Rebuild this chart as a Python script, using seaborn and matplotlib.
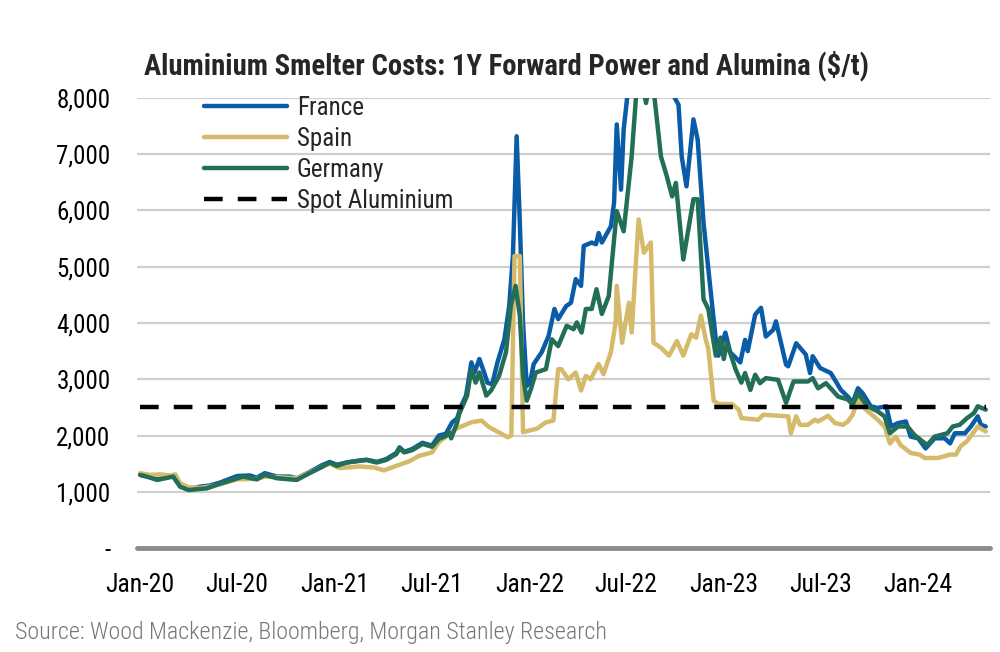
import seaborn as sns
import matplotlib.pyplot as plt
import matplotlib.dates as mdates
import matplotlib.ticker as mticker
import pandas as pd

# ---------- data ($/t) ----------
france_dates = ['2020-01-01', '2020-01-20', '2020-02-02', '2020-02-22', '2020-03-03', '2020-03-16', '2020-04-01',
                '2020-04-22', '2020-05-10', '2020-05-29', '2020-07-01', '2020-07-25', '2020-08-07', '2020-08-22',
                '2020-09-14', '2020-10-08', '2020-10-21', '2020-11-14', '2020-12-07', '2020-12-22', '2021-01-04',
                '2021-01-28', '2021-03-01', '2021-03-20', '2021-04-07', '2021-04-26', '2021-05-02', '2021-05-11',
                '2021-05-26', '2021-06-14', '2021-07-02', '2021-07-15', '2021-07-28', '2021-08-09', '2021-08-18',
                '2021-08-26', '2021-09-04', '2021-09-14', '2021-09-20', '2021-09-29', '2021-10-08', '2021-10-14',
                '2021-10-23', '2021-11-02', '2021-11-15', '2021-11-24', '2021-12-01', '2021-12-08', '2021-12-14',
                '2021-12-20', '2021-12-27', '2022-01-02', '2022-01-09', '2022-01-24', '2022-02-06', '2022-02-17',
                '2022-02-24', '2022-03-11', '2022-03-20', '2022-03-29', '2022-04-08', '2022-04-13', '2022-04-28',
                '2022-05-06', '2022-05-11', '2022-05-17', '2022-06-03', '2022-06-09', '2022-06-14', '2022-06-22',
                '2022-06-27', '2022-07-07', '2022-07-25', '2022-09-01', '2022-09-24', '2022-10-01', '2022-10-08',
                '2022-10-14', '2022-10-23', '2022-11-05', '2022-11-13', '2022-11-24', '2022-12-07', '2022-12-17',
                '2022-12-22', '2023-01-04', '2023-01-13', '2023-02-01', '2023-02-10', '2023-02-15', '2023-03-01',
                '2023-03-12', '2023-03-21', '2023-04-04', '2023-04-09', '2023-04-28', '2023-05-02', '2023-05-17',
                '2023-06-04', '2023-06-12', '2023-06-17', '2023-07-01', '2023-07-21', '2023-08-09', '2023-08-22',
                '2023-08-31', '2023-09-10', '2023-09-19', '2023-10-04', '2023-10-17', '2023-11-02', '2023-11-11',
                '2023-11-24', '2023-12-09', '2023-12-18', '2024-01-01', '2024-01-15', '2024-02-01', '2024-02-20',
                '2024-03-01', '2024-03-10', '2024-03-29', '2024-04-09', '2024-04-22', '2024-04-28', '2024-05-07']
france = [1300, 1260, 1220, 1260, 1280, 1100, 1040,
          1090, 1110, 1160, 1280, 1290, 1250, 1330,
          1270, 1270, 1240, 1350, 1470, 1530, 1480,
          1530, 1570, 1530, 1580, 1690, 1790, 1710,
          1760, 1870, 1820, 2000, 2030, 2235, 2300,
          2530, 2710, 3300, 3120, 3360, 3120, 2940,
          2910, 3300, 3710, 4300, 5190, 7320, 5780,
          4000, 2880, 2940, 3270, 3480, 3770, 4250,
          4070, 4300, 4360, 4780, 4660, 5370, 5430,
          5400, 5600, 5430, 5720, 6140, 7530, 6370,
          7440, 8300, 9000, 9200, 8600, 8000, 7880,
          6960, 6430, 7620, 7260, 5780, 4600, 3710,
          3420, 3830, 3480, 3300, 3700, 3500, 4150,
          4270, 3760, 3880, 4030, 3260, 3230, 3640,
          3440, 3110, 3410, 3200, 3110, 2810, 2690,
          2580, 2840, 2750, 2520, 2490, 2520, 2160,
          2220, 2250, 1980, 1950, 1770, 1950, 1950,
          1860, 2040, 2040, 2160, 2340, 2190, 2160]

spain_dates = ['2020-01-01', '2020-01-20', '2020-02-07', '2020-02-26', '2020-03-07', '2020-03-16', '2020-04-01',
               '2020-04-22', '2020-05-10', '2020-05-29', '2020-07-01', '2020-08-07', '2020-08-22', '2020-09-14',
               '2020-10-21', '2020-11-14', '2020-12-07', '2020-12-22', '2021-01-10', '2021-02-16', '2021-03-16',
               '2021-04-03', '2021-04-26', '2021-05-20', '2021-06-08', '2021-06-17', '2021-07-02', '2021-07-15',
               '2021-08-16', '2021-09-14', '2021-10-03', '2021-10-17', '2021-11-21', '2021-11-28', '2021-12-04',
               '2021-12-14', '2021-12-20', '2022-01-01', '2022-01-15', '2022-02-01', '2022-02-15', '2022-02-24',
               '2022-03-02', '2022-03-15', '2022-03-29', '2022-04-08', '2022-04-17', '2022-04-26', '2022-05-06',
               '2022-05-11', '2022-05-20', '2022-06-03', '2022-06-12', '2022-06-14', '2022-06-24', '2022-07-07',
               '2022-07-12', '2022-07-25', '2022-08-04', '2022-08-17', '2022-08-22', '2022-09-05', '2022-09-20',
               '2022-10-05', '2022-10-17', '2022-11-01', '2022-11-10', '2022-11-19', '2022-11-28', '2022-12-03',
               '2022-12-13', '2022-12-22', '2023-01-16', '2023-01-29', '2023-02-03', '2023-03-07', '2023-03-16',
               '2023-05-02', '2023-05-07', '2023-05-17', '2023-05-24', '2023-06-08', '2023-06-21', '2023-06-27',
               '2023-07-16', '2023-07-29', '2023-08-13', '2023-08-22', '2023-08-31', '2023-09-10', '2023-09-25',
               '2023-10-17', '2023-10-30', '2023-11-09', '2023-11-20', '2023-11-29', '2023-12-18', '2024-01-04',
               '2024-01-13', '2024-02-07', '2024-03-01', '2024-03-12', '2024-03-21', '2024-04-02', '2024-04-22',
               '2024-05-07']
spain = [1330, 1300, 1310, 1290, 1310, 1150, 1080,
         1070, 1090, 1130, 1220, 1230, 1270, 1260,
         1240, 1340, 1440, 1500, 1420, 1450, 1430,
         1380, 1460, 1540, 1640, 1660, 1700, 1880,
         2120, 2235, 2265, 2150, 1970, 2000, 5190,
         5190, 2060, 2090, 2120, 2235, 2265, 3180,
         3180, 3000, 3120, 2800, 3060, 3000, 3180,
         3270, 3090, 3480, 4010, 4660, 3650, 4360,
         3830, 5840, 5250, 5430, 3650, 3560, 3420,
         3680, 3420, 3800, 3740, 4130, 3710, 3540,
         2620, 2560, 2560, 2460, 2310, 2280, 2370,
         2340, 2040, 2340, 2190, 2190, 2280, 2250,
         2350, 2220, 2190, 2250, 2370, 2630, 2460,
         2280, 2160, 1860, 1980, 1830, 1690, 1660,
         1600, 1600, 1660, 1660, 1810, 1900, 2160,
         2070]

germany_dates = ['2020-01-01', '2020-01-20', '2020-02-02', '2020-02-22', '2020-03-03', '2020-03-16', '2020-04-01',
                 '2020-04-22', '2020-05-05', '2020-05-29', '2020-07-12', '2020-08-07', '2020-08-22', '2020-09-14',
                 '2020-10-21', '2020-11-14', '2020-12-07', '2020-12-22', '2021-01-04', '2021-01-23', '2021-03-01',
                 '2021-03-20', '2021-04-07', '2021-04-26', '2021-05-02', '2021-05-11', '2021-05-26', '2021-06-14',
                 '2021-07-02', '2021-07-15', '2021-07-28', '2021-08-03', '2021-08-07', '2021-08-18', '2021-08-22',
                 '2021-09-06', '2021-09-14', '2021-09-22', '2021-09-29', '2021-10-12', '2021-10-21', '2021-11-05',
                 '2021-11-18', '2021-11-27', '2021-12-06', '2021-12-14', '2021-12-20', '2021-12-27', '2022-01-04',
                 '2022-01-13', '2022-02-01', '2022-02-12', '2022-02-24', '2022-03-12', '2022-03-25', '2022-03-31',
                 '2022-04-09', '2022-04-17', '2022-04-28', '2022-05-07', '2022-05-17', '2022-05-30', '2022-06-14',
                 '2022-06-27', '2022-07-12', '2022-07-20', '2022-07-29', '2022-08-08', '2022-08-15', '2022-08-24',
                 '2022-09-05', '2022-09-16', '2022-09-26', '2022-10-03', '2022-10-17', '2022-11-05', '2022-11-13',
                 '2022-11-24', '2022-12-03', '2022-12-17', '2022-12-26', '2023-01-01', '2023-01-07', '2023-01-23',
                 '2023-02-03', '2023-02-10', '2023-02-20', '2023-03-01', '2023-03-10', '2023-03-21', '2023-04-13',
                 '2023-04-28', '2023-05-12', '2023-06-08', '2023-06-17', '2023-06-27', '2023-07-12', '2023-08-04',
                 '2023-08-22', '2023-08-31', '2023-09-10', '2023-09-28', '2023-10-17', '2023-10-30', '2023-11-09',
                 '2023-11-24', '2023-12-12', '2023-12-25', '2024-01-18', '2024-02-01', '2024-02-25', '2024-03-06',
                 '2024-03-19', '2024-04-02', '2024-04-15', '2024-04-22', '2024-05-07']
germany = [1300, 1250, 1210, 1250, 1270, 1090, 1030,
           1050, 1060, 1140, 1270, 1220, 1300, 1240,
           1210, 1330, 1440, 1520, 1460, 1520, 1565,
           1520, 1565, 1670, 1770, 1700, 1740, 1850,
           1800, 1940, 1990, 2060, 1950, 2220, 2380,
           2710, 3180, 2940, 3120, 2710, 2800, 3060,
           3480, 4300, 4660, 4130, 3060, 2620, 2830,
           3120, 3180, 3710, 3590, 3950, 3890, 4010,
           3830, 4250, 4250, 4600, 4160, 4480, 5990,
           5630, 6960, 8000, 8400, 7910, 8300, 8000,
           6960, 6610, 6250, 6490, 5130, 6200, 6200,
           4420, 4250, 3420, 3740, 3360, 3650, 3180,
           2940, 3110, 2810, 3080, 2930, 3020, 2990,
           2580, 2960, 2960, 3020, 2840, 2930, 2690,
           2640, 2550, 2750, 2520, 2430, 2340, 2040,
           2160, 2160, 2010, 1830, 1980, 2040, 2160,
           2190, 2310, 2400, 2520, 2460]

spot_dates = ['2020-01-01', '2024-05-07']
spot_alu = [2500, 2500]

series_names = ['France', 'Spain', 'Germany']
colors = {'France': '#0A5CA8', 'Spain': '#D4BA6A', 'Germany': '#226E57'}

frames = []
for name, d, v in [('France', france_dates, france), ('Spain', spain_dates, spain),
                   ('Germany', germany_dates, germany)]:
    frames.append(pd.DataFrame({'date': pd.to_datetime(d), 'value': v, 'series': name}))
df = pd.concat(frames, ignore_index=True)
spot = pd.DataFrame({'date': pd.to_datetime(spot_dates), 'value': spot_alu})

# ---------- plot ----------
sns.set_style('white')
plt.rcParams['font.family'] = ['Roboto Condensed', 'Liberation Sans Narrow', 'Roboto', 'DejaVu Sans']

fig = plt.figure(figsize=(10, 6.52), dpi=100)
ax = fig.add_axes([0.137, 0.1595, 0.853, 0.6902])

for y in range(1000, 9000, 1000):
    ax.axhline(y, color='#cfcfcf', lw=1.6, zorder=0)

sns.lineplot(data=df, x='date', y='value', hue='series', hue_order=series_names,
             palette=colors, lw=3.2, sort=False, estimator=None, ax=ax, legend=False)
sns.lineplot(data=spot, x='date', y='value', color='black', lw=3.2,
             linestyle=(0, (4.2, 3.4)), ax=ax, legend=False, zorder=5)

ax.set_ylim(0, 8000)
ax.set_xlim(pd.Timestamp('2019-12-26'), pd.Timestamp('2024-05-15'))
ax.axhline(0, color='#8c8c8c', lw=3.5, zorder=6, clip_on=False)

for s in ax.spines.values():
    s.set_visible(False)

ax.yaxis.set_major_locator(mticker.MultipleLocator(1000))
ax.yaxis.set_major_formatter(mticker.FuncFormatter(lambda v, p: '-' if v == 0 else f'{v:,.0f}'))
ax.xaxis.set_major_locator(mdates.MonthLocator(bymonth=[1, 7]))
ax.xaxis.set_major_formatter(mdates.DateFormatter('%b-%y'))
ax.tick_params(axis='y', length=0, pad=19, labelsize=18, labelcolor='black')
ax.tick_params(axis='x', length=0, pad=18, labelsize=18.5, labelcolor='black')
ax.set_xlabel('')
ax.set_ylabel('')

handles = [plt.Line2D([], [], color=colors['France'], lw=3.2),
           plt.Line2D([], [], color=colors['Spain'], lw=3.2),
           plt.Line2D([], [], color=colors['Germany'], lw=3.2),
           plt.Line2D([], [], color='black', lw=3.2, linestyle=(0, (4.2, 3.4)))]
ax.legend(handles, ['France', 'Spain', 'Germany', 'Spot Aluminium'], loc='upper left',
          bbox_to_anchor=(0.067, 1.027), frameon=False, fontsize=18, handlelength=3.3,
          handletextpad=0.4, labelspacing=0.28, borderaxespad=0)

fig.text(0.506, 0.899, 'Aluminium Smelter Costs: 1Y Forward Power and Alumina ($/t)',
         ha='center', va='center', fontsize=20.7, fontweight='bold')
fig.text(0.015, 0.03, 'Source: Wood Mackenzie, Bloomberg, Morgan Stanley Research',
         ha='left', va='center', fontsize=17.3, color='#777777', fontweight='light')

fig.savefig('out.png', dpi=100)
